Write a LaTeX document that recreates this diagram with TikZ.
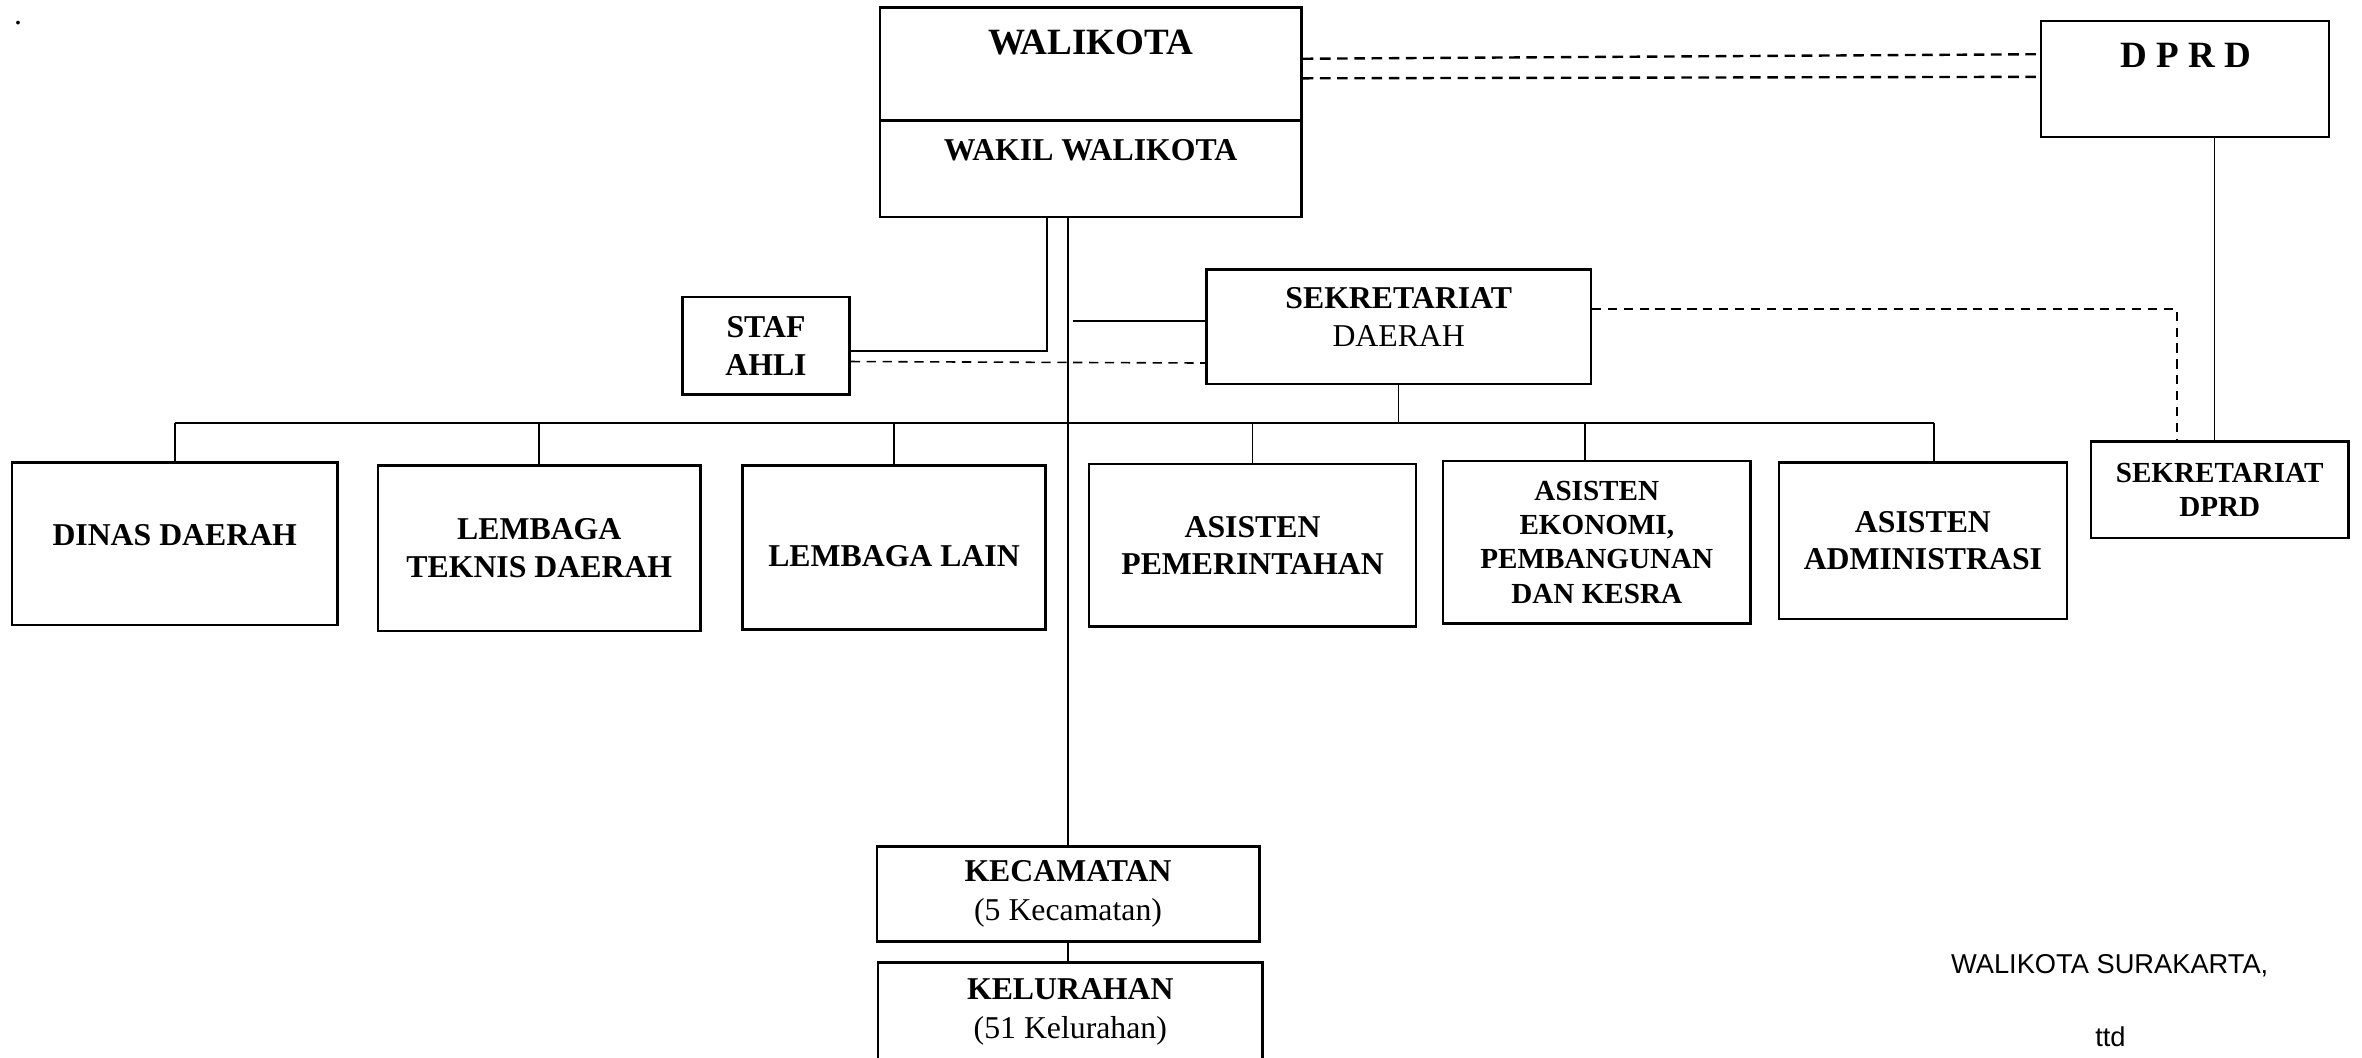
\documentclass[tikz,border=0pt]{standalone}
\usepackage{fontspec}
\setmainfont{Liberation Serif}
\newfontfamily\signfont{Liberation Sans}
\begin{document}
\begin{tikzpicture}[
  box/.style={draw, line width=0.9pt, rectangle, inner sep=0pt, align=center,
              font=\fontsize{12}{14.2}\selectfont\bfseries},
  smallbox/.style={box, font=\fontsize{11}{12.9}\selectfont\bfseries},
  txt/.style={inner sep=0pt, align=center, font=\fontsize{12}{14.2}\selectfont\bfseries},
  bigtxt/.style={txt, font=\fontsize{14}{16}\selectfont\bfseries},
  link/.style={line width=0.6pt},
  dlink/.style={line width=0.9pt, dash pattern=on 4pt off 2.5pt},
  dthin/.style={line width=0.6pt, dash pattern=on 3.5pt off 2.5pt},
]
\useasboundingbox (0,0) rectangle (31.36,-14.04);

% stray full stop in the corner
\node[inner sep=0pt, font=\fontsize{12}{14}\selectfont] (dot) at (0.24,-0.3) {.};

% head of the city
\node[box, minimum width=5.6cm, minimum height=1.5cm] (walitop) at (14.48,-0.85) {};
\node[box, minimum width=5.6cm, minimum height=1.28cm] (wakil) at (14.48,-2.24) {};
\node[bigtxt] (walitxt) at (14.48,-0.56) {WALIKOTA};
\node[txt] (wakiltxt) at (14.48,-2.0) {WAKIL WALIKOTA};

% council
\node[box, minimum width=3.82cm, minimum height=1.54cm] (dprd) at (29.01,-1.05) {};
\node[bigtxt] (dprdtxt) at (29.02,-0.74) {D P R D};
\node[smallbox, minimum width=3.42cm, minimum height=1.28cm] (sdprd) at (29.47,-6.5)
  {SEKRETARIAT\\DPRD};

% secretariat and expert staff
\node[box, minimum width=5.1cm, minimum height=1.52cm] (sekda) at (18.57,-4.34) {};
\node[txt] (sekdatxt) at (18.57,-4.21) {SEKRETARIAT\\\mdseries DAERAH};
\node[box, minimum width=2.22cm, minimum height=1.3cm] (staf) at (10.17,-4.59) {STAF\\AHLI};

% second row
\node[box, minimum width=4.32cm, minimum height=2.16cm] (dinas) at (2.32,-7.22) {};
\node[txt] (dinastxt) at (2.32,-7.1) {DINAS DAERAH};
\node[box, minimum width=4.28cm, minimum height=2.2cm] (lemt) at (7.16,-7.28)
  {LEMBAGA\\TEKNIS DAERAH};
\node[box, minimum width=4.02cm, minimum height=2.18cm] (lain) at (11.87,-7.27) {};
\node[txt] (laintxt) at (11.87,-7.38) {LEMBAGA LAIN};
\node[box, minimum width=4.34cm, minimum height=2.16cm] (apem) at (16.63,-7.24)
  {ASISTEN\\PEMERINTAHAN};
\node[smallbox, minimum width=4.08cm, minimum height=2.16cm] (aeko) at (21.2,-7.2)
  {ASISTEN\\EKONOMI,\\PEMBANGUNAN\\DAN KESRA};
\node[box, minimum width=3.82cm, minimum height=2.08cm] (aadm) at (25.53,-7.18)
  {ASISTEN\\ADMINISTRASI};

% districts and sub-districts
\node[box, font=\fontsize{12}{14.7}\selectfont, minimum width=5.08cm, minimum height=1.26cm] (kec) at (14.18,-11.87)
  {\textbf{KECAMATAN}\\(5 Kecamatan)};
\node[box, font=\fontsize{12}{14.7}\selectfont, minimum width=5.1cm, minimum height=1.32cm] (kel) at (14.21,-13.44)
  {\textbf{KELURAHAN}\\(51 Kelurahan)};

% signature
\node[inner sep=0pt, font=\signfont\fontsize{10.3}{12}\selectfont] (sign) at (28.01,-12.82) {WALIKOTA SURAKARTA,};
\node[inner sep=0pt, font=\signfont\fontsize{10.3}{12}\selectfont] (ttd) at (28.02,-13.76) {ttd};

% helper coordinates
\coordinate (ya) at (0,-0.78);
\coordinate (yb) at (0,-0.72);
\coordinate (yc) at (0,-1.04);
\coordinate (yd) at (0,-1.02);
\coordinate (stafbend) at (13.9,-4.66);
\coordinate (sekstart) at (14.24,-4.26);
\coordinate (ye) at (0,-4.8);
\coordinate (yf) at (0,-4.82);
\coordinate (busY) at (0,-5.62);
\coordinate (xeko) at (21.04,0);
\coordinate (xadm) at (25.68,0);
\coordinate (xdprd) at (29.4,0);
\coordinate (sdbend) at (28.9,-4.1);
\coordinate (thickL) at (13.2,-5.62);
\coordinate (thickR) at (17.3,-5.62);

% coordination with the council
\draw[dlink] (walitop.east |- ya) -- (dprd.west |- yb);
\draw[dlink] (walitop.east |- yc) -- (dprd.west |- yd);
\draw[link] (dprd.south -| xdprd) -- (sdprd.north -| xdprd);
\draw[dthin] (sekda.east |- sdbend) -- (sdbend) -- (sdbend |- sdprd.north);

% command lines
\draw[link] (kec.north |- wakil.south) -- (kec.north);
\draw[link] (kec.south) -- (kec.south |- kel.north);
\draw[link] (wakil.south -| stafbend) -- (stafbend) -- (stafbend -| staf.east);
\draw[link] (sekstart) -- (sekstart -| sekda.west);
\draw[dthin] (staf.east |- ye) -- (sekda.west |- yf);
\draw[link] (sekda.south) -- (sekda.south |- busY);

% bus to the second row
\draw[link] (dinas.north |- busY) -- (xadm |- busY);
\draw[line width=0.9pt] (thickL) -- (thickR);
\draw[link] (dinas.north |- busY) -- (dinas.north);
\draw[link] (lemt.north |- busY) -- (lemt.north);
\draw[link] (lain.north |- busY) -- (lain.north);
\draw[link] (apem.north |- busY) -- (apem.north);
\draw[link] (xeko |- busY) -- (xeko |- aeko.north);
\draw[link] (xadm |- busY) -- (xadm |- aadm.north);
\end{tikzpicture}
\end{document}
